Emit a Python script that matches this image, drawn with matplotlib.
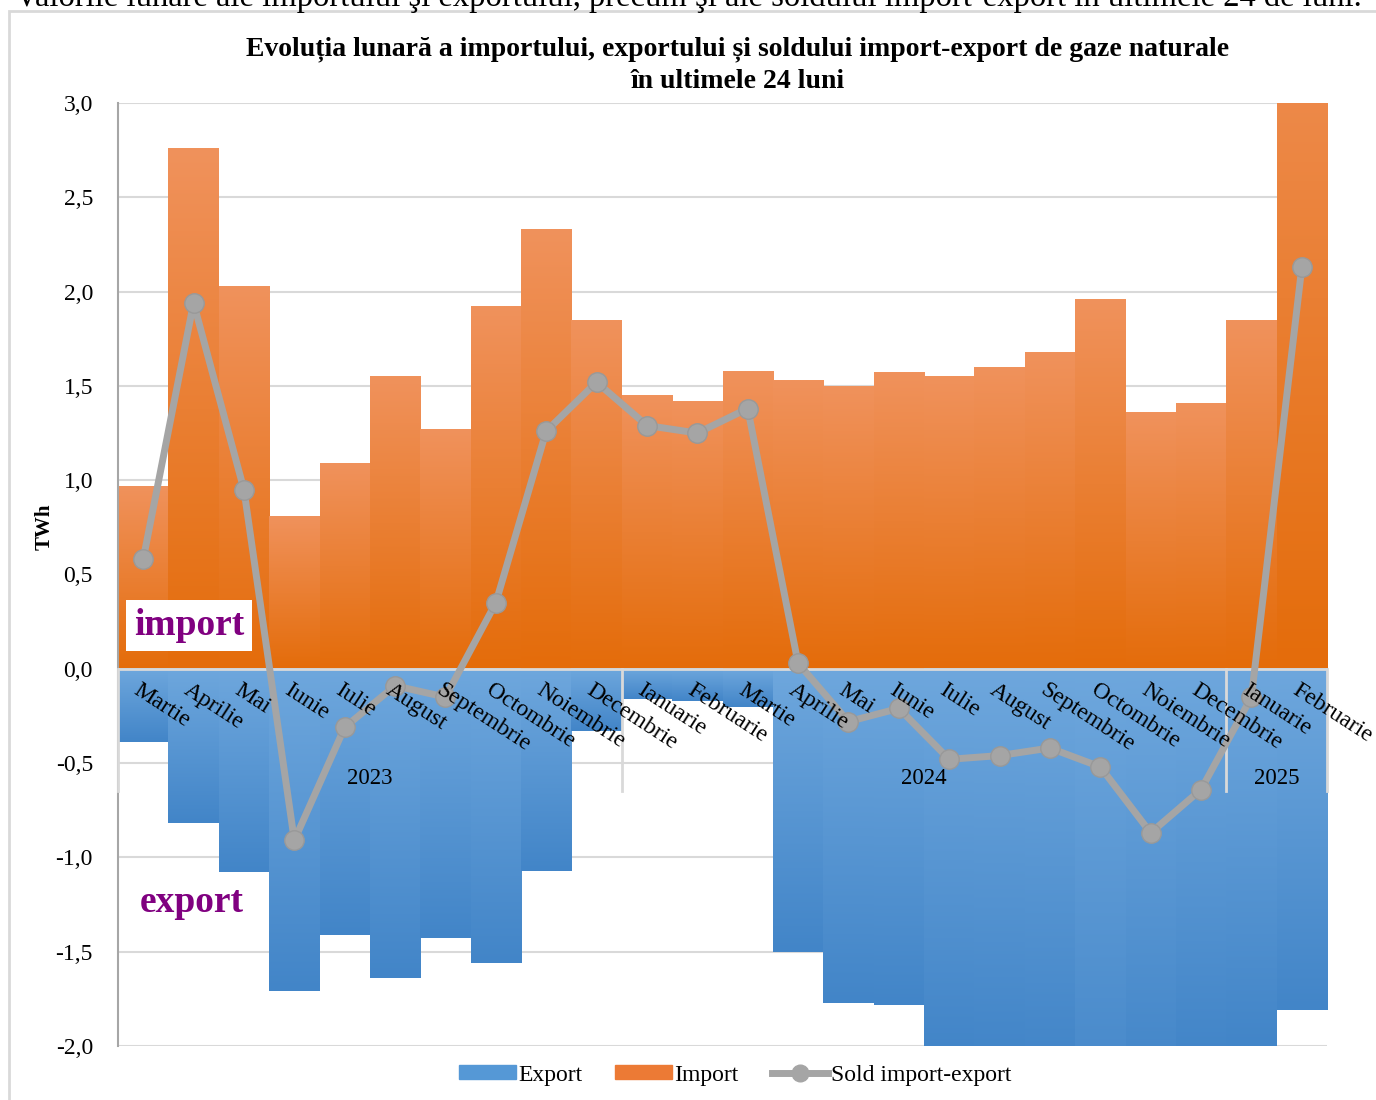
import numpy as np
import matplotlib.pyplot as plt
from matplotlib.patches import Patch, Rectangle
from matplotlib.lines import Line2D
from matplotlib.ticker import FuncFormatter
from matplotlib.colors import to_rgb

plt.rcParams['font.family'] = ['Liberation Serif', 'DejaVu Serif']

# date (TWh)
luni = ['Martie', 'Aprilie', 'Mai', 'Iunie', 'Iulie', 'August', 'Septembrie',
        'Octombrie', 'Noiembrie', 'Decembrie',
        'Ianuarie', 'Februarie', 'Martie', 'Aprilie', 'Mai', 'Iunie', 'Iulie',
        'August', 'Septembrie', 'Octombrie', 'Noiembrie', 'Decembrie',
        'Ianuarie', 'Februarie']
ani = ['2023', '2024', '2025']
luni_pe_an = [10, 12, 2]

import_twh = [0.97, 2.76, 2.03, 0.81, 1.09, 1.55, 1.27, 1.92, 2.33, 1.85,
              1.45, 1.42, 1.58, 1.53, 1.50, 1.57, 1.55, 1.60, 1.68, 1.96,
              1.36, 1.41, 1.85, 3.94]
export_twh = [-0.39, -0.82, -1.08, -1.71, -1.41, -1.64, -1.43, -1.56, -1.07, -0.33,
              -0.16, -0.17, -0.20, -1.50, -1.77, -1.78, -2.03, -2.06, -2.10, -2.48,
              -2.23, -2.05, -2.00, -1.81]
sold_twh = [0.58, 1.94, 0.95, -0.91, -0.31, -0.09, -0.15, 0.35, 1.26, 1.52,
            1.29, 1.25, 1.38, 0.03, -0.28, -0.21, -0.48, -0.46, -0.42, -0.52,
            -0.87, -0.64, -0.15, 2.13]

YMIN, YMAX = -2.0, 3.0

fig = plt.figure(figsize=(13.76, 11), dpi=100)
W, H = 1376, 1100
ax = fig.add_axes([118 / W, 1 - 1046 / H, (1327 - 118) / W, (1046 - 103) / H])

x = np.arange(len(luni))


def gradient_bar(ax, xc, h, c_zero, c_capat):
    # culoare de la zero spre capatul barei, taiata la limitele axei
    lo, hi = sorted((0, h))
    lo, hi = max(lo, YMIN), min(hi, YMAX)
    yy = np.linspace(lo, hi, 200)
    frac = np.clip(yy / h, 0, 1)[:, None]
    c0 = np.array(to_rgb(c_zero))
    c1 = np.array(to_rgb(c_capat))
    img = c0 + frac * (c1 - c0)
    ax.imshow(img[:, None, :], extent=[xc - 0.5, xc + 0.5, lo, hi],
              origin='lower', aspect='auto', zorder=2, interpolation='bilinear')


ax.bar(x, import_twh, width=1.0, color='#EC7A35', zorder=1.5)
ax.bar(x, export_twh, width=1.0, color='#5598D6', zorder=1.5)
for i in x:
    gradient_bar(ax, i, import_twh[i], '#E46C0A', '#F0925C')
    gradient_bar(ax, i, export_twh[i], '#6EA7DD', '#4285C8')

ax.set_xlim(-0.5, len(luni) - 0.5)
ax.set_ylim(YMIN, YMAX)

ax.yaxis.grid(True, color='#D9D9D9', lw=1.5, zorder=0)
ax.set_axisbelow(True)
ax.axhline(0, color='#D9D9D9', lw=2, zorder=3)

ax.plot(x, sold_twh, color='#A5A5A5', lw=5, marker='o', ms=14,
        markerfacecolor='#A5A5A5', markeredgecolor='#999999', zorder=5)

# etichete luni (inclinate) si ani
for i, luna in enumerate(luni):
    ax.text(i - 0.04, -0.055, luna, rotation=-33, rotation_mode='anchor',
            ha='left', va='top', fontsize=17, zorder=6)

start = 0
for an, n in zip(ani, luni_pe_an):
    ax.text(start + n / 2 - 0.5, -0.58, an, ha='center', va='center',
            fontsize=16.5, zorder=6)
    start += n
sep = np.cumsum([0] + luni_pe_an) - 0.5
for s in sep:
    ax.plot([s, s], [0, -0.65], color='#D9D9D9', lw=2, zorder=3, clip_on=False)

ax.text(0.91, 0.23, 'import', color='#800080', fontsize=27, fontweight='bold',
        ha='center', va='center', zorder=6,
        bbox=dict(fc='white', ec='none', pad=6))
ax.text(0.97, -1.24, 'export', color='#800080', fontsize=27, fontweight='bold',
        ha='center', va='center', zorder=6,
        bbox=dict(fc='white', ec='none', pad=6))

ax.set_xticks([])
ax.set_yticks(np.arange(-2, 3.01, 0.5))
ax.yaxis.set_major_formatter(FuncFormatter(lambda v, p: f'{v:.1f}'.replace('.', ',')))
ax.tick_params(axis='y', length=0, pad=18, labelsize=17)
for sp in ['top', 'right', 'bottom']:
    ax.spines[sp].set_visible(False)
ax.spines['left'].set_color('#A6A6A6')
ax.spines['left'].set_linewidth(1.5)

fig.text(45 / W, 1 - 527 / H, 'TWh', rotation=90, ha='center', va='center',
         fontsize=15, fontweight='bold')

fig.text(738 / W, 1 - 49 / H,
         'Evoluția lunară a importului, exportului și soldului import-export de gaze naturale',
         ha='center', va='center', fontsize=20, fontweight='bold')
fig.text(738 / W, 1 - 81 / H, 'în ultimele 24 luni', ha='center', va='center',
         fontsize=20, fontweight='bold')

# text de deasupra, taiat de marginea imaginii
fig.text(15 / W, 1 - 6 / H,
         'Valorile lunare ale importului şi exportului, precum şi ale soldului import-export în ultimele 24 de luni.',
         ha='left', va='baseline', fontsize=23.5)
fig.patches.append(Rectangle((9 / W, -0.05), 1.1, 1 - 11 / H + 0.05,
                             transform=fig.transFigure, fill=False,
                             ec='#D9D9D9', lw=2))

handles = [Patch(color='#5598D6'), Patch(color='#EC7A35'),
           Line2D([], [], color='#A5A5A5', lw=5, marker='o', ms=12)]
fig.legend(handles, ['Export', 'Import', 'Sold import-export'],
           loc='center', bbox_to_anchor=(735 / W, 1 - 1075 / H), ncol=3,
           frameon=False, fontsize=17, handlelength=2.4, handleheight=0.5,
           columnspacing=1.4, handletextpad=0.1)

fig.savefig('out.png', dpi=100)
